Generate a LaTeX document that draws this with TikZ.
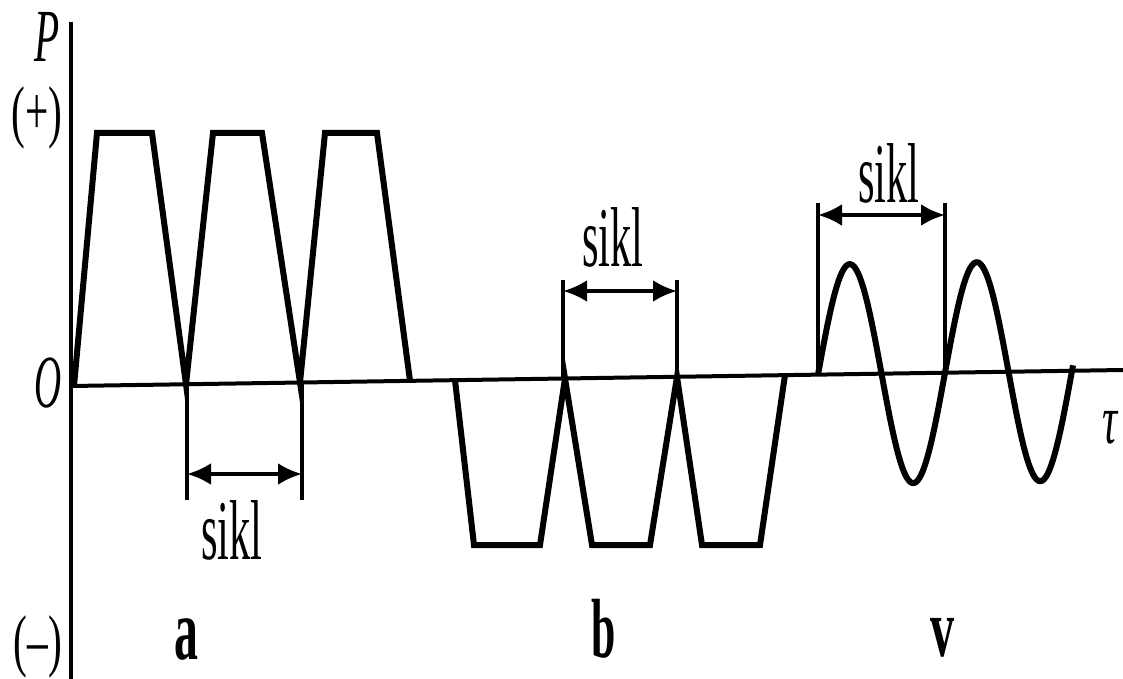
\documentclass[tikz,border=0pt]{standalone}
\usepackage{fontspec}
\setmainfont{Liberation Serif}
\usetikzlibrary{arrows.meta}
\newcommand\sqz[3]{\scalebox{#1}[1]{\fontsize{#2}{#2}\selectfont #3}}
\begin{document}
\begin{tikzpicture}[x=1pt,y=-1pt,
  wave/.style={line width=6pt,line join=miter},
  axisline/.style={line width=4pt},
  dimline/.style={line width=3.5pt},
  dimarrow/.style={line width=4pt,{Latex[length=24pt,width=22pt]}-{Latex[length=24pt,width=22pt]}},
  lbl/.style={inner sep=0pt}]
\useasboundingbox (0,0) rectangle (1123,679);
\fill[white] (0,0) rectangle (1123,679);
% axes
\coordinate (yTop) at (71,22); \coordinate (yBot) at (71,679);
\coordinate (xL) at (71,386); \coordinate (xR) at (1123,370);
\draw[axisline] (yTop) -- (yBot);
\draw[axisline] (xL) -- (xR);
% axis labels
\node[lbl] (P) at (47,37) {\sqz{0.55}{75}{\itshape P}};
\node[lbl] (plus) at (37,118) {\sqz{0.6}{69}{(+)}};
\node[lbl] (O) at (48,383) {\sqz{0.5}{75}{\itshape O}};
\node[lbl] (minus) at (38,647) {\sqz{0.6}{69}{(--)}};
\node[lbl] (tau) at (1110,428) {\sqz{0.6}{70}{\itshape τ}};
% (a) trapezoids
\draw[wave] (74,386) -- (97,133) -- (152,133) -- (186,384.3) -- (213,133) -- (262,133) -- (300,382.5) -- (325,133) -- (377,133) -- (410,380.9);
\coordinate (a1t) at (187,384.2); \coordinate (a1b) at (187,500);
\coordinate (a2t) at (302,382.5); \coordinate (a2b) at (302,500);
\draw[dimline] (a1t) -- (a1b);
\draw[dimline] (a2t) -- (a2b);
\coordinate (a1m) at (187,474); \coordinate (a2m) at (302,474);
\draw[dimarrow] (a1m) -- (a2m);
\node[lbl] (sa) at (232,530) {\sqz{0.5}{85}{sikl}};
\node[lbl] (la) at (186,640) {\sqz{0.55}{87}{\bfseries a}};
% (b) trapezoids
\draw[wave] (455,380.2) -- (474,545) -- (540,545) -- (565,378.5) -- (592,545) -- (650,545) -- (677,376.8) -- (702,545) -- (760,545) -- (785,375.1);
\coordinate (b1t) at (563,280); \coordinate (b1b) at (563,378.5);
\coordinate (b2t) at (677,280); \coordinate (b2b) at (677,376.8);
\draw[dimline] (b1t) -- (b1b);
\draw[dimline] (b2t) -- (b2b);
\coordinate (b1m) at (563,291); \coordinate (b2m) at (677,291);
\draw[dimarrow] (b1m) -- (b2m);
\node[lbl] (sb) at (613,237) {\sqz{0.5}{85}{sikl}};
\node[lbl] (lb) at (604,629) {\sqz{0.52}{84}{\bfseries b}};
% (v) sine
\draw[wave,line join=round] plot[domain=0:255,samples=150] ({818+\x},{374.6-0.01522*\x-110*sin((\x/127)*360)});
\coordinate (v1t) at (818,203); \coordinate (v1b) at (818,374.6);
\coordinate (v2t) at (945,203); \coordinate (v2b) at (945,372.7);
\draw[dimline] (v1t) -- (v1b);
\draw[dimline] (v2t) -- (v2b);
\coordinate (v1m) at (818,215); \coordinate (v2m) at (945,215);
\draw[dimarrow] (v1m) -- (v2m);
\node[lbl] (sv) at (889,173) {\sqz{0.5}{85}{sikl}};
\node[lbl] (lv) at (943,638) {\sqz{0.58}{83}{\bfseries v}};
\end{tikzpicture}
\end{document}
